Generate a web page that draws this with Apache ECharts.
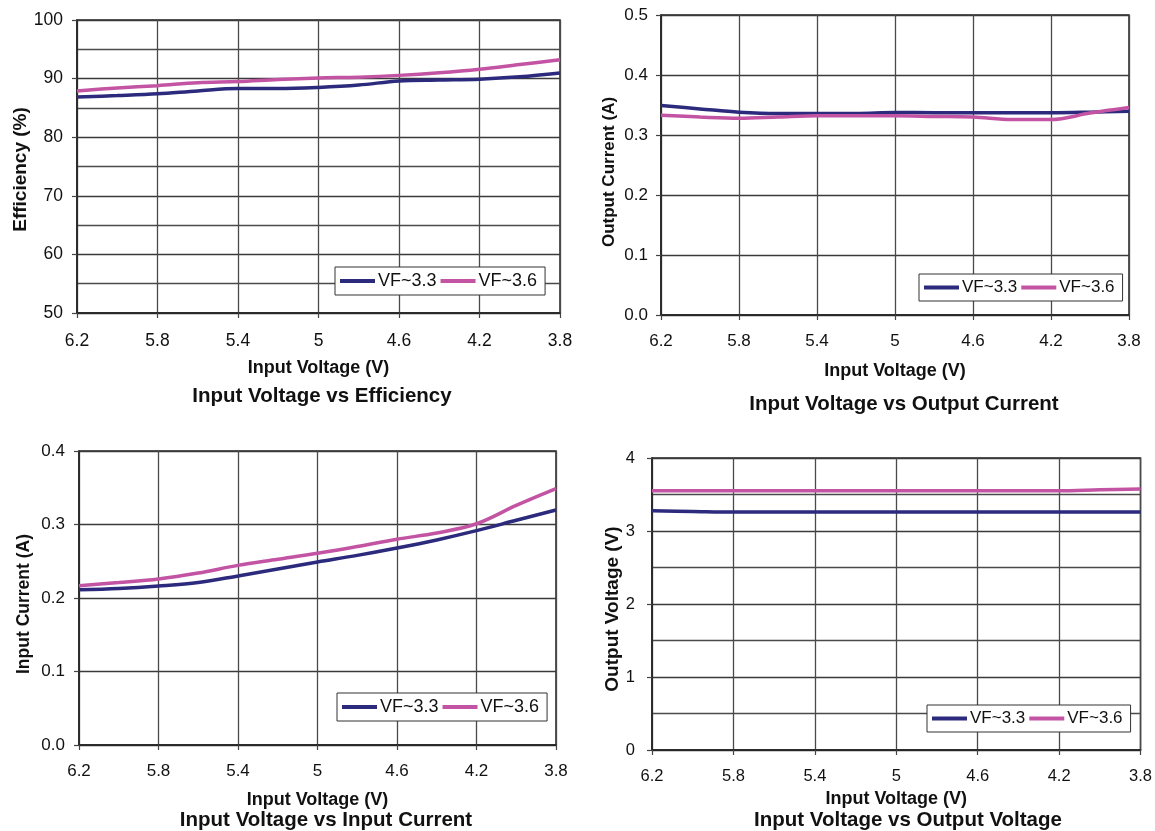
<!DOCTYPE html>
<html>
<head>
<meta charset="utf-8">
<script src="https://cdn.jsdelivr.net/npm/echarts@6/dist/echarts.min.js"></script>
<style>
html,body{margin:0;padding:0;background:#fff;}
#chart{width:1155px;height:831px;}
</style>
</head>
<body>
<div id="chart"></div>
<script>
// Input voltage categories (V), plotted from 6.2 down to 3.8
const inputVoltage = ["6.2","6.0","5.8","5.6","5.4","5.2","5","4.8","4.6","4.4","4.2","4.0","3.8"];
const seriesNames = ["VF~3.3", "VF~3.6"];

// Efficiency (%)
const eff33 = [86.85, 87.1, 87.4, 87.9, 88.3, 88.3, 88.5, 88.9, 89.6, 89.75, 89.9, 90.3, 90.95];
const eff36 = [87.9, 88.4, 88.8, 89.3, 89.5, 89.85, 90.1, 90.25, 90.55, 91.0, 91.6, 92.4, 93.2];

// Output current (A)
const iout33 = [0.349, 0.3435, 0.338, 0.3357, 0.336, 0.336, 0.3374, 0.3372, 0.337, 0.337, 0.337, 0.338, 0.3396];
const iout36 = [0.333, 0.330, 0.328, 0.330, 0.332, 0.332, 0.332, 0.331, 0.330, 0.3257, 0.3257, 0.3365, 0.3457];

// Input current (A)
const iin33 = [0.2113, 0.213, 0.2163, 0.221, 0.230, 0.2395, 0.249, 0.258, 0.268, 0.279, 0.2916, 0.3057, 0.3197];
const iin36 = [0.2168, 0.221, 0.2259, 0.234, 0.2444, 0.2526, 0.2608, 0.270, 0.280, 0.2884, 0.301, 0.326, 0.3488];

// Output voltage (V)
const vout33 = [3.278, 3.268, 3.259, 3.26, 3.26, 3.26, 3.26, 3.26, 3.26, 3.26, 3.26, 3.26, 3.26];
const vout36 = [3.552, 3.552, 3.552, 3.552, 3.552, 3.552, 3.552, 3.552, 3.552, 3.552, 3.552, 3.565, 3.575];

const chartTitles = ["Input Voltage vs Efficiency", "Input Voltage vs Output Current", "Input Voltage vs Input Current", "Input Voltage vs Output Voltage"];
const yTitles = ["Efficiency (%)", "Output Current (A)", "Input Current (A)", "Output Voltage (V)"];
const xTitle = "Input Voltage (V)";

const NAVY = '#2c2a7c';
const PINK = '#c354a4';
const FONT = '"Liberation Sans", Arial, sans-serif';

const panels = [
  { grid: {left: 77, top: 20, width: 483, height: 293}, y: {min: 50, max: 100, interval: 10, minor: true, dec: 0},
    yGap: 46, yShift: 6, xGap: 46, xMargin: 19, yMargin: 14, yTitleSize: 19, tickSize: 17.5,
    title: {x: 322, y: 386}, legend: {left: 335, top: 267, size: 18}, data: [eff33, eff36] },
  { grid: {left: 661, top: 15, width: 468, height: 300}, y: {min: 0, max: 0.5, interval: 0.1, minor: false, dec: 1},
    yGap: 43, yShift: 14, xGap: 47, xMargin: 18, yMargin: 13, yTitleSize: 17, tickSize: 17,
    title: {x: 904, y: 394}, legend: {left: 919, top: 274, size: 17}, data: [iout33, iout36] },
  { grid: {left: 79, top: 451, width: 477, height: 294}, y: {min: 0, max: 0.4, interval: 0.1, minor: false, dec: 1},
    yGap: 46, yShift: 12, xGap: 46, xMargin: 18, yMargin: 14, yTitleSize: 17.5, tickSize: 17,
    title: {x: 326, y: 810}, legend: {left: 337, top: 693, size: 18}, data: [iin33, iin36] },
  { grid: {left: 652, top: 458, width: 490, height: 292}, y: {min: 0, max: 4, interval: 1, minor: true, dec: 0},
    yGap: 30, yShift: 10, xGap: 40, xMargin: 18, yMargin: 17, yTitleSize: 19, tickSize: 16.5,
    title: {x: 908, y: 810}, legend: {left: 927, top: 705, size: 17}, data: [vout33, vout36] }
];

const option = {
  animation: false,
  backgroundColor: '#ffffff',
  textStyle: {fontFamily: FONT},
  title: [], grid: [], xAxis: [], yAxis: [], legend: [], series: []
};

panels.forEach((p, i) => {
  option.title.push({
    text: chartTitles[i], left: p.title.x, top: p.title.y, textAlign: 'center', padding: 0,
    textStyle: {fontFamily: FONT, fontSize: 20.5, fontWeight: 'bold', color: '#111'}
  });
  option.grid.push(Object.assign({show: true, backgroundColor: '#fff', borderColor: '#222', borderWidth: 1.5, containLabel: false}, p.grid));
  option.xAxis.push({
    type: 'category', gridIndex: i, data: inputVoltage, boundaryGap: false,
    name: xTitle, nameLocation: 'middle', nameGap: p.xGap,
    nameTextStyle: {fontFamily: FONT, fontSize: 18, fontWeight: 'bold', color: '#111'},
    axisLine: {lineStyle: {color: '#222', width: 1.5}},
    axisTick: {show: true, interval: 1, length: 5, lineStyle: {color: '#444', width: 1.2}},
    axisLabel: {interval: 1, margin: p.xMargin, fontFamily: FONT, fontSize: p.tickSize, color: '#111'},
    splitLine: {show: true, interval: 1, lineStyle: {color: '#4a4a4a', width: 1.3}}
  });
  option.yAxis.push({
    type: 'value', gridIndex: i, min: p.y.min, max: p.y.max, interval: p.y.interval,
    name: yTitles[i], nameLocation: 'middle', nameGap: p.yGap, nameRotate: 90,
    nameTextStyle: {fontFamily: FONT, fontSize: p.yTitleSize, fontWeight: 'bold', color: '#111',
      padding: [0, p.yShift, 0, 0]},
    axisLine: {show: true, lineStyle: {color: '#222', width: 1.5}},
    axisTick: {show: true, length: 5, lineStyle: {color: '#444', width: 1.2}},
    axisLabel: {margin: p.yMargin, fontFamily: FONT, fontSize: p.tickSize, color: '#111',
      formatter: v => v.toFixed(p.y.dec)},
    splitLine: {show: true, lineStyle: {color: '#3a3a3a', width: 1.3}},
    minorTick: {show: false, splitNumber: 2},
    minorSplitLine: {show: p.y.minor, lineStyle: {color: '#4a4a4a', width: 1.3}}
  });
  option.legend.push({
    left: p.legend.left, top: p.legend.top, orient: 'horizontal',
    data: seriesNames, icon: 'rect', itemWidth: 35, itemHeight: 4, itemGap: 4,
    padding: [5, 8, 5, 5], borderColor: '#333', borderWidth: 1, backgroundColor: '#fff',
    selectedMode: false,
    textStyle: {fontFamily: FONT, fontSize: p.legend.size, color: '#111', padding: [0, 0, 0, -2]}
  });
  [NAVY, PINK].forEach((c, k) => {
    option.series.push({
      name: seriesNames[k], type: 'line', xAxisIndex: i, yAxisIndex: i,
      data: p.data[k], symbol: 'none', smooth: 0.35, color: c,
      lineStyle: {color: c, width: 3.5}, z: 3 + k
    });
  });
});

const chart = echarts.init(document.getElementById('chart'), null, {renderer: 'canvas'});
chart.setOption(option);
</script>
</body>
</html>
